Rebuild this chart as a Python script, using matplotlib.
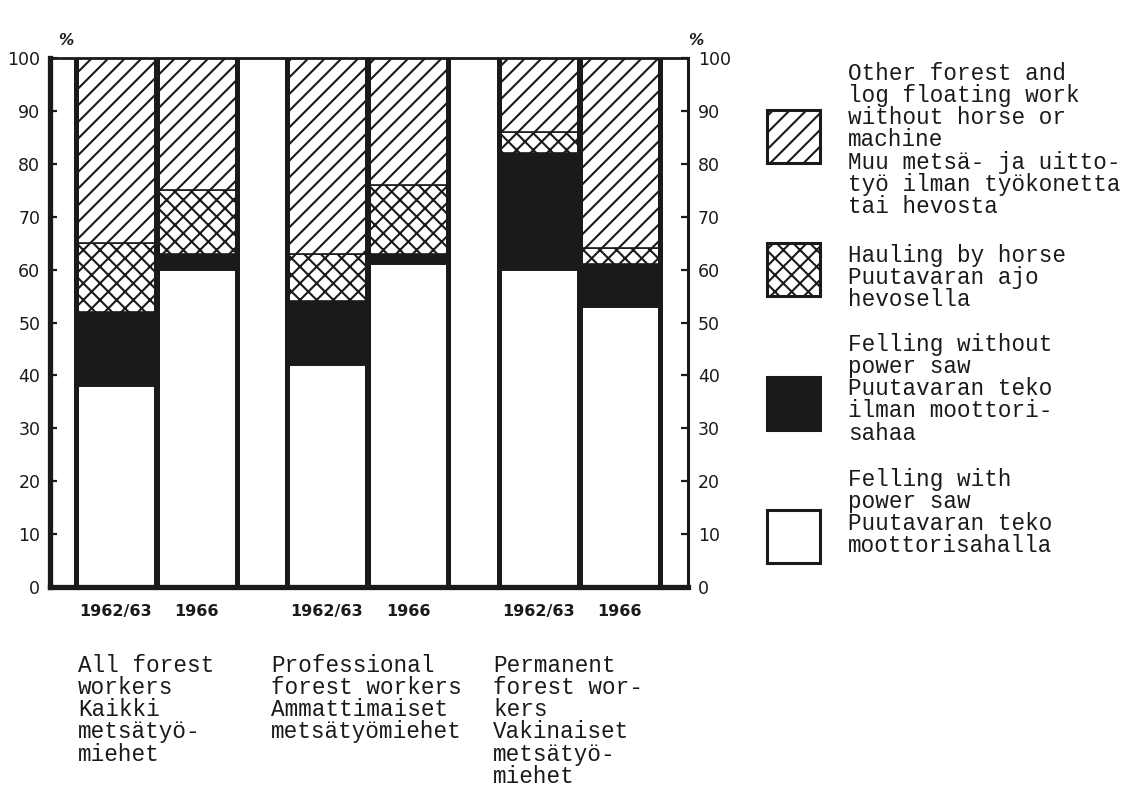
import matplotlib
matplotlib.use("Agg")
import matplotlib.pyplot as plt
from matplotlib.patches import Rectangle

# ---------------- data ----------------
periods = ["1962/63", "1966"]
groups = [
    ["All forest", "workers", "Kaikki", "metsätyö-", "miehet"],
    ["Professional", "forest workers", "Ammattimaiset", "metsätyömiehet"],
    ["Permanent", "forest wor-", "kers", "Vakinaiset", "metsätyö-", "miehet"],
]
# bottom -> top, one value per bar (All 62/63, All 66, Prof 62/63, Prof 66, Perm 62/63, Perm 66)
power_saw    = [38, 60, 42, 61, 60, 53]
no_power_saw = [14, 3, 12, 2, 22, 8]
horse        = [13, 12, 9, 13, 4, 3]
other        = [35, 25, 37, 24, 14, 36]
yticks = [0, 10, 20, 30, 40, 50, 60, 70, 80, 90, 100]

legend_labels = [
    ["Other forest and", "log floating work", "without horse or", "machine",
     "Muu metsä- ja uitto-", "työ ilman työkonetta", "tai hevosta"],
    ["Hauling by horse", "Puutavaran ajo", "hevosella"],
    ["Felling without", "power saw", "Puutavaran teko", "ilman moottori-", "sahaa"],
    ["Felling with", "power saw", "Puutavaran teko", "moottorisahalla"],
]

# ---------------- style ----------------
W, H = 1134, 789
INK = "#1a1a1a"
plt.rcParams["hatch.linewidth"] = 1.5
plt.rcParams["hatch.color"] = INK
MONO = "Liberation Mono"

fig = plt.figure(figsize=(W / 100, H / 100), dpi=100)
fig.patch.set_facecolor("white")

ax = fig.add_axes([50 / W, 1 - 587 / H, 638 / W, 529 / H])
ax.set_xlim(0, 638)
ax.set_ylim(0, 100)

bar_w = 80
xs = []
for g in range(len(groups)):
    c = 106 + 211.5 * g
    xs += [c - 40.5, c + 40.5]

segments = [
    (power_saw, "white", ""),
    (no_power_saw, INK, ""),
    (horse, "white", "xx"),
    (other, "white", "//"),
]
bottom = [0] * len(xs)
for vals, fc, hatch in segments:
    ax.bar(xs, vals, width=bar_w, bottom=bottom, color=fc, hatch=hatch,
           edgecolor=INK, linewidth=1.2, zorder=2)
    bottom = [b + v for b, v in zip(bottom, vals)]

# thick vertical bar edges
edges = sorted(set([x - bar_w / 2 for x in xs] + [x + bar_w / 2 for x in xs]))
ax.vlines(edges, 0, 100, colors=INK, linewidth=3.6, zorder=3)

# spines
for side, lw in [("left", 3.8), ("bottom", 3.8), ("top", 2.0), ("right", 2.2)]:
    ax.spines[side].set_linewidth(lw)
    ax.spines[side].set_color(INK)
    ax.spines[side].set_zorder(4)

ax.set_yticks(yticks)
ax.tick_params(axis="y", which="both", direction="in", length=5, width=1.6,
               left=True, right=True, labelleft=True, labelright=True,
               labelsize=12.5, colors=INK, pad=7)
ax.set_xticks([])
for lab in ax.get_yticklabels():
    lab.set_family("DejaVu Sans")

# category labels under bars
for i, x in enumerate(xs):
    ax.text(x, -4.6, periods[i % 2], ha="center", va="center",
            fontsize=11.5, fontweight="bold", color=INK, family="DejaVu Sans")

# ---------------- overlay (pixel coordinates) ----------------
ov = fig.add_axes([0, 0, 1, 1])
ov.set_xlim(0, W)
ov.set_ylim(H, 0)
ov.axis("off")
ov.patch.set_alpha(0)

# percent signs
ov.text(58, 40, "%", fontsize=11, fontweight="bold", fontstyle="italic",
        color=INK, ha="left", va="center")
ov.text(688, 40, "%", fontsize=11, fontweight="bold", fontstyle="italic",
        color=INK, ha="left", va="center")

LS = 22.3
FS = 16.3
# group labels
for gx, lines in zip([78, 271, 493], groups):
    for j, line in enumerate(lines):
        ov.text(gx, 665 + j * LS, line, family=MONO, fontsize=FS, color=INK,
                ha="left", va="center")

# legend
legend_styles = [("white", "//"), ("white", "xx"), (INK, ""), ("white", "")]
patch_tops = [110, 243, 377, 510]
text_tops = [73, 255, 344, 479]
for (fc, hatch), pt, tt, lines in zip(legend_styles, patch_tops, text_tops, legend_labels):
    ov.add_patch(Rectangle((767, pt), 53, 53, facecolor=fc, hatch=hatch,
                           edgecolor=INK, linewidth=2.2))
    for j, line in enumerate(lines):
        ov.text(848, tt + j * LS, line, family=MONO, fontsize=FS, color=INK,
                ha="left", va="center")

fig.savefig("out.png", dpi=100, facecolor="white")
